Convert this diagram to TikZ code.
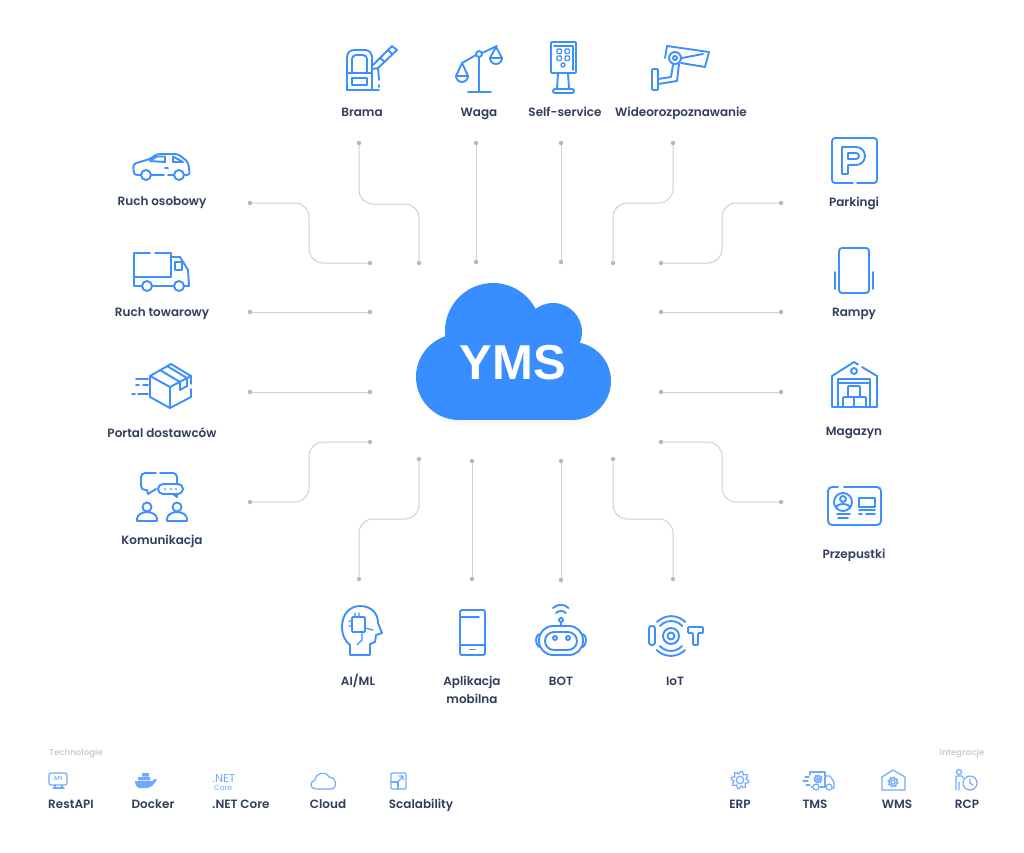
\documentclass[tikz,border=0pt]{standalone}
\usepackage{fontspec}
\setmainfont{Poppins SemiBold}
\newfontfamily\cloudfont{Liberation Sans}[Scale=1]
\newfontfamily\thinfont{Poppins}
\definecolor{iconblue}{HTML}{3D8EFF}
\definecolor{softblue}{HTML}{6FAAFF}
\definecolor{cloudblue}{HTML}{388DFF}
\definecolor{labelink}{HTML}{323D5E}
\definecolor{wirecol}{HTML}{CFCFCF}
\definecolor{dotcol}{HTML}{B8B8B8}
\newcommand{\gearicon}[3]{%
  \draw[icosm] plot[domain=0:360,samples=65,smooth] ({#1+#3*(0.84+0.16*sin(8*\x))*cos(\x)},{#2+#3*(0.84+0.16*sin(8*\x))*sin(\x)}) -- cycle;
  \draw[icosm] (#1,#2) circle (0.42*#3);}
\begin{document}
\begin{tikzpicture}[x=1pt, y=-1pt,
    wire/.style={draw=wirecol, line width=1pt, rounded corners=14pt},
    dotn/.style={circle, fill=dotcol, inner sep=0pt, minimum size=4.5pt},
    ico/.style={draw=iconblue, line width=1.9pt, line cap=round, line join=round},
    icosm/.style={draw=softblue, line width=1.2pt, line cap=round, line join=round},
    lbl/.style={text=labelink, font=\fontsize{12}{18}\selectfont, inner sep=0pt, anchor=base},
    hdr/.style={text=black!20, font=\fontsize{8.6}{10}\selectfont, inner sep=0pt}]
    \useasboundingbox (0,0) rectangle (1024,852);

    % Cloud
    \fill[black!2, rounded corners=24pt] (434,392) rectangle (598,426);
    \fill[black!3, rounded corners=22pt] (438,392) rectangle (594,423);
    \fill[cloudblue] (459,377) circle (43);
    \fill[cloudblue] (493,331) circle (48);
    \fill[cloudblue] (553,332) circle (29);
    \fill[cloudblue] (572,381) circle (39);
    \fill[cloudblue] (459,340) rectangle (572,420);
    \node[text=white, font=\cloudfont\bfseries\fontsize{49}{50}\selectfont, inner sep=0pt] (yms) at (513,363) {YMS};

    % Connector ends, top
    \node[dotn] (bramaA) at (359,143) {};  \node[dotn] (bramaB) at (419,263) {};
    \node[dotn] (wagaA) at (476,143) {};   \node[dotn] (wagaB) at (476,262) {};
    \node[dotn] (selfA) at (561,143) {};   \node[dotn] (selfB) at (561,262) {};
    \node[dotn] (wideoA) at (673,143) {};  \node[dotn] (wideoB) at (613,263) {};
    % left
    \node[dotn] (osobA) at (250,203) {};   \node[dotn] (osobB) at (370,263) {};
    \node[dotn] (towA) at (250,312) {};    \node[dotn] (towB) at (370,312) {};
    \node[dotn] (portA) at (250,392) {};   \node[dotn] (portB) at (370,392) {};
    \node[dotn] (komA) at (250,502) {};    \node[dotn] (komB) at (370,442) {};
    % right
    \node[dotn] (parkA) at (781,203) {};   \node[dotn] (parkB) at (661,263) {};
    \node[dotn] (rampA) at (781,312) {};   \node[dotn] (rampB) at (661,312) {};
    \node[dotn] (magA) at (781,392) {};    \node[dotn] (magB) at (661,392) {};
    \node[dotn] (przeA) at (781,502) {};   \node[dotn] (przeB) at (661,442) {};
    % bottom
    \node[dotn] (aiA) at (359,579) {};     \node[dotn] (aiB) at (419,459) {};
    \node[dotn] (appA) at (472,579) {};    \node[dotn] (appB) at (472,461) {};
    \node[dotn] (botA) at (561,580) {};    \node[dotn] (botB) at (561,461) {};
    \node[dotn] (iotA) at (673,579) {};    \node[dotn] (iotB) at (613,459) {};

    % Bend points
    \coordinate (bramaM) at (389,204);
    \coordinate (wideoM) at (643,203);
    \coordinate (osobM) at (309,233);
    \coordinate (komM) at (309,472);
    \coordinate (parkM) at (722,233);
    \coordinate (przeM) at (722,472);
    \coordinate (aiM) at (389,519);
    \coordinate (iotM) at (643,519);

    % Connectors
    \draw[wire] (bramaA) |- (bramaM) -| (bramaB);
    \draw[wire] (wagaA) -- (wagaB);
    \draw[wire] (selfA) -- (selfB);
    \draw[wire] (wideoA) |- (wideoM) -| (wideoB);
    \draw[wire] (osobA) -| (osobM) |- (osobB);
    \draw[wire] (towA) -- (towB);
    \draw[wire] (portA) -- (portB);
    \draw[wire] (komA) -| (komM) |- (komB);
    \draw[wire] (parkA) -| (parkM) |- (parkB);
    \draw[wire] (rampA) -- (rampB);
    \draw[wire] (magA) -- (magB);
    \draw[wire] (przeA) -| (przeM) |- (przeB);
    \draw[wire] (aiA) |- (aiM) -| (aiB);
    \draw[wire] (appA) -- (appB);
    \draw[wire] (botA) -- (botB);
    \draw[wire] (iotA) |- (iotM) -| (iotB);

    % Labels
    \node[lbl] (brama) at (362,116) {Brama};
    \node[lbl] (waga) at (479,116) {Waga};
    \node[lbl] (self) at (565,116) {Self-service};
    \node[lbl] (wideo) at (681,116) {Wideorozpoznawanie};
    \node[lbl] (osob) at (162,205) {Ruch osobowy};
    \node[lbl] (tow) at (162,316) {Ruch towarowy};
    \node[lbl] (port) at (162,437) {Portal dostawców};
    \node[lbl] (kom) at (162,544) {Komunikacja};
    \node[lbl] (park) at (854,206) {Parkingi};
    \node[lbl] (ramp) at (854,316) {Rampy};
    \node[lbl] (mag) at (854,435) {Magazyn};
    \node[lbl] (prze) at (854,558) {Przepustki};
    \node[lbl] (ai) at (358,685) {AI/ML};
    \node[lbl, anchor=center, align=center] (app) at (472,690) {Aplikacja\\mobilna};
    \node[lbl] (bot) at (561,685) {BOT};
    \node[lbl] (iot) at (675,685) {IoT};
    \node[hdr] (tech) at (76,753) {Technologie};
    \node[hdr] (integ) at (962,753) {Integracje};
    \node[lbl] (rest) at (71,808) {RestAPI};
    \node[lbl] (docker) at (153,808) {Docker};
    \node[lbl] (core) at (241,808) {.NET Core};
    \node[lbl] (cloud) at (328,808) {Cloud};
    \node[lbl] (scal) at (421,808) {Scalability};
    \node[lbl] (erp) at (740,808) {ERP};
    \node[lbl] (tms) at (815,808) {TMS};
    \node[lbl] (wms) at (897,808) {WMS};
    \node[lbl] (rcp) at (967,808) {RCP};

    % Brama icon
    \draw[ico] (347,90) {[rounded corners=7pt] -- (347,50) -- (372,50)} -- (372,90) -- (379,90);
    \draw[ico] (347,90) -- (372,90);
    \draw[ico] (347,73) -- (372,73);
    \draw[ico] (352,73) {[rounded corners=4pt] -- (352,55) -- (367,55)} -- (367,73);
    \draw[ico] (352,78) rectangle (367,85);
    \draw[ico] (372,69) -- (378,68) -- (379,80) (379,85) -- (379,87);
    \draw[ico] (373,65) -- (392,46) -- (397,50) -- (378,68);
    \draw[ico] (380,58) -- (385,62) (388,50) -- (392,54);

    % Waga icon
    \draw[ico] (462,63) -- (476,55) (482,53) -- (497,46);
    \draw[ico] (479,54) circle (3);
    \draw[ico] (479,57) -- (479,92) (468,92) -- (491,92);
    \draw[ico] (456,76) -- (462,63) -- (468,76);
    \draw[ico] (456,76) -- (468,76) arc (0:180:6);
    \draw[ico] (490,58) -- (496,47) -- (502,58);
    \draw[ico] (490,58) -- (502,58) arc (0:180:6);

    % Self-service icon
    \draw[ico, rounded corners=1pt] (551,42) rectangle (576,73);
    \draw[ico] (554,46) -- (573,46) -- (573,70);
    \foreach \kx/\ky in {557/49, 565/49, 557/56, 565/56}
      \draw[ico, line width=1.3pt, rounded corners=1pt] (\kx,\ky) rectangle ++(4.5,4.5);
    \draw[ico, line width=1.3pt] (563,65) circle (2);
    \draw[ico] (558,73) -- (557,89) (568,73) -- (569,89);
    \draw[ico, rounded corners=2pt] (553,89) rectangle (574,93);

    % Wideorozpoznawanie icon
    \draw[ico] (667,46) -- (709,52) -- (705,67) -- (681,63);
    \draw[ico] (667,46) -- (665,58);
    \draw[ico] (682,58) -- (703,54);
    \draw[ico] (675,58) circle (6);
    \draw[ico] (675,58) circle (2);
    \draw[ico] (673,65) -- (671,77) -- (658,79) (679,64) -- (677,81) -- (658,84);
    \draw[ico, rounded corners=1pt] (652,69) rectangle (658,90);

    % Ruch osobowy icon
    \draw[ico, rounded corners=3pt] (141,175) -- (134,175) -- (133,164) -- (150,159) -- (157,154) -- (178,154) -- (188,162) -- (190,175) -- (185,175);
    \draw[ico] (152,175) -- (164,175) (168,175) -- (173,175);
    \draw[ico] (150,161) -- (157,156.5) -- (165,156.5) -- (165,162) -- cycle;
    \draw[ico] (173,156.5) -- (183,162) -- (173,162) -- cycle;
    \draw[ico] (165,168) -- (168,168);
    \draw[ico] (146,175) circle (5);
    \draw[ico] (179,175) circle (5);

    % Ruch towarowy icon
    \draw[ico] (150,253) -- (134,253) -- (134,286) -- (141,286);
    \draw[ico] (155,253) -- (171,253) -- (171,277) -- (134,277);
    \draw[ico] (171,257) -- (180,257) -- (188,270) -- (189,286) -- (185,286);
    \draw[ico] (153,286) -- (173,286);
    \draw[ico] (175,262) -- (182,262) -- (182,270) -- (175,270) -- cycle;
    \draw[ico] (147,286) circle (5);
    \draw[ico] (179,286) circle (5);

    % Portal dostawcow icon
    \draw[ico] (150,376) -- (171,364) -- (191,376) -- (191,384) (191,389) -- (191,397) -- (170,408) -- (150,397) -- (150,376);
    \draw[ico] (150,376) -- (170,387) -- (191,376) (170,387) -- (170,408);
    \draw[ico] (160,370) -- (180,382) -- (180,390) (167,366) -- (187,378) -- (187,386) -- (180,390);
    \draw[ico] (136,379) -- (148,379) (136,385) -- (139,385) (143,385) -- (148,385);
    \draw[ico] (132,394) -- (135,394) (138,394) -- (148,394);

    % Komunikacja icon
    \draw[ico] (156,473) -- (147,473) {[rounded corners=4pt] -- (141,473) -- (141,490)} -- (147,490) -- (148,494) -- (156,489);
    \draw[ico] (160,473) -- (171,473) {[rounded corners=4pt] -- (177,473) -- (177,484)};
    \draw[ico, rounded corners=5pt] (158,484) rectangle (183,494);
    \draw[ico] (173,494) -- (177,497) -- (177,494);
    \fill[iconblue] (165,489) circle (1) (171,489) circle (1) (176,489) circle (1);
    \draw[ico] (147,507) circle (4.5);
    \draw[ico] (177,507) circle (4.5);
    \draw[ico] (137,521) -- (157,521) -- (157,519) arc (0:-180:10 and 7) -- cycle;
    \draw[ico] (167,521) -- (187,521) -- (187,519) arc (0:-180:10 and 7) -- cycle;

    % Parkingi icon
    \draw[ico] (853,183) {[rounded corners=3pt] -- (832,183) -- (832,138) -- (877,138) -- (877,183)} -- (857,183);
    \draw[ico] (842,174) -- (842,147) -- (856,147) arc (-90:90:9) -- (848,165) -- (848,174) -- cycle;
    \draw[ico] (848,153) -- (856,153) arc (-90:90:3) -- (848,159) -- cycle;

    % Rampy icon
    \draw[ico, rounded corners=3pt] (839,248) rectangle (869,293);
    \draw[ico] (835,272) -- (835,289) (873,272) -- (873,289);

    % Magazyn icon
    \draw[ico] (858,364.5) -- (854,362) -- (832,376) -- (832,407) -- (877,407) -- (877,376) -- (862,367);
    \draw[ico] (838,407) -- (838,379) -- (870,379) -- (870,407) (838,383) -- (870,383);
    \draw[ico] (854,371) circle (3);
    \draw[ico, rounded corners=1pt] (848,386) rectangle (860,397);
    \draw[ico, rounded corners=1pt] (843,397) rectangle (854,407);
    \draw[ico, rounded corners=1pt] (854,397) rectangle (866,407);

    % Przepustki icon
    \draw[ico] (838,487) -- (832,487) {[rounded corners=4pt] -- (828,487) -- (828,525) -- (881,525) -- (881,487)} -- (844,487);
    \draw[ico] (843,502) circle (9);
    \draw[ico] (843,499) circle (3);
    \draw[ico] (836,508) arc (-180:0:7 and 4);
    \draw[ico] (859,498) rectangle (875,507);
    \draw[ico] (859,510) -- (875,510) (859,514) -- (862,514) (866,514) -- (875,514);
    \draw[ico] (837,514) -- (850,514) (838,518) -- (848,518);

    % AI/ML icon
    \draw[ico] (350,655) -- (350,645) .. controls (344,640) and (342,634) .. (342,627) .. controls (342,614) and (350,606) .. (360,606) .. controls (372,606) and (378,614) .. (378,623) -- (382,633) -- (376,635) -- (375,642) -- (370,644) -- (370,655) -- cycle;
    \draw[ico, rounded corners=1pt] (352,617) rectangle (365,632);
    \draw[ico, line width=1.3pt] (355,617) -- (355,613) (359,617) -- (359,613) (352,621) -- (349,621) (352,626) -- (349,626) (365,628) -- (373,630) (362,632) -- (362,640) -- (357,645);

    % Aplikacja mobilna icon
    \draw[ico, rounded corners=2pt] (460,610) rectangle (485,655);
    \draw[ico] (460,617) -- (479,617) (460,645) -- (485,645) (470,649.5) -- (475,649.5);

    % BOT icon
    \draw[ico, rounded corners=14pt] (539,626) rectangle (583,655);
    \draw[ico, rounded corners=9pt] (545,632) rectangle (577,650);
    \draw[ico] (555,638) circle (2);
    \draw[ico] (568,638) circle (2);
    \draw[ico] (539,634) .. controls (535,636) and (535,644) .. (539,647);
    \draw[ico] (583,634) .. controls (587,636) and (587,644) .. (583,647);
    \draw[ico] (561,622) -- (561,626);
    \draw[ico] (561,620) circle (2);
    \draw[ico] (556,613) arc (-135:-45:7);
    \draw[ico] (553,608) arc (-135:-45:11);

    % IoT icon
    \draw[ico, rounded corners=2.5pt] (649,626) rectangle (655,645);
    \draw[ico] (671,636) circle (3.5);
    \draw[ico] (671,636) circle (8);
    \draw[ico] (660,626) arc (-138:-42:15);
    \draw[ico] (657,622) arc (-135:-45:20);
    \draw[ico] (682,646) arc (42:138:15);
    \draw[ico] (685,650) arc (45:135:20);
    \draw[ico, rounded corners=1pt] (688,627) -- (703,627) -- (703,633) -- (698,633) -- (698,645) -- (693,645) -- (693,633) -- (688,633) -- cycle;

    % Bottom row icons
    \draw[icosm, rounded corners=2pt] (49,773) rectangle (67,785);
    \node[text=softblue, font=\fontsize{5.5}{6}\selectfont, inner sep=0pt] (apitxt) at (58,778.5) {API};
    \draw[icosm] (55,785) -- (55,788) (62,785) -- (62,788) (53,788) -- (64,788);
    \fill[softblue] (135,781) -- (152,781) .. controls (153,779) and (155,779) .. (157,779) .. controls (155,785) and (150,788) .. (146,788) -- (140,788) .. controls (137,788) and (135,785) .. (135,781) -- cycle;
    \fill[softblue] (138,777) rectangle (150,780.3) (142,773) rectangle (149,776.5);
    \node[text=softblue, font=\thinfont\fontsize{11.5}{12}\selectfont, inner sep=0pt] (nettxt) at (224,779) {.NET};
    \node[text=softblue, font=\thinfont\fontsize{7.5}{8}\selectfont, inner sep=0pt] (coretxt) at (223,788) {Core};
    \draw[icosm] (316,789) .. controls (310,789) and (309,782) .. (315,780) .. controls (316,773) and (325,770) .. (329,777) .. controls (337,777) and (338,789) .. (331,789) -- cycle;
    \draw[icosm, rounded corners=1pt] (391,773) rectangle (406,789);
    \draw[icosm] (391,782) -- (398,782) -- (398,789);
    \draw[icosm] (397,783) -- (403,776) (399,776) -- (403,776) -- (403,780);

    % Integration icons
    \gearicon{740}{780}{9}
    \draw[icosm] (810,775) -- (810,772) -- (825,772) -- (825,787) -- (820,787) (811,787) -- (812,787);
    \draw[icosm] (825,776) -- (830,776) -- (834,782) -- (834,788) -- (832,788) (825,787) -- (826,787);
    \draw[icosm] (805,777) -- (809,777) (803,781) -- (808,781) (806,785) -- (810,785);
    \draw[icosm] (816,787) circle (3);
    \draw[icosm] (829,787) circle (3);
    \gearicon{818}{779}{4}
    \draw[icosm] (882,790) -- (882,777) -- (893,770) -- (905,777) -- (905,790) -- cycle;
    \gearicon{893}{782}{5}
    \draw[icosm] (959,772) circle (2.5);
    \draw[icosm, rounded corners=1pt] (956,790) -- (956,776) -- (963,776) -- (963,778) (959,790) -- (959,782);
    \draw[icosm] (970,783) circle (7);
    \draw[icosm] (970,779) -- (970,783) -- (973,785);
\end{tikzpicture}
\end{document}
